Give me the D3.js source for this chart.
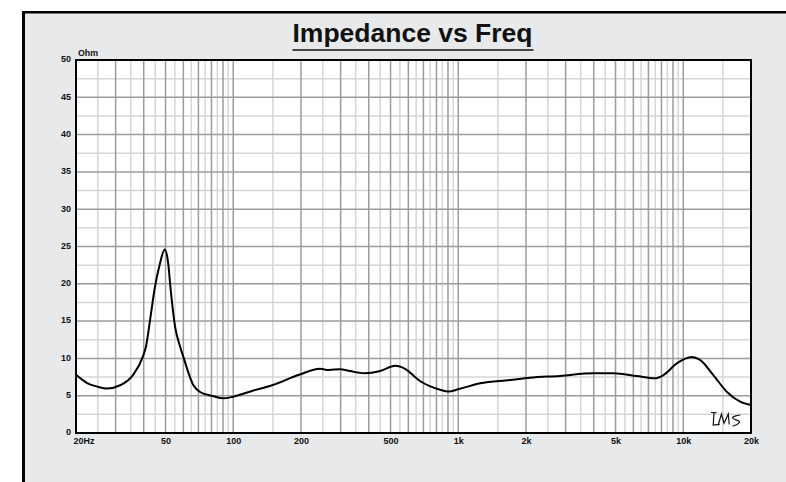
<!DOCTYPE html>
<html>
<head>
<meta charset="utf-8">
<script src="https://cdn.jsdelivr.net/npm/d3@7.9.0/dist/d3.min.js"></script>
<style>
  body { margin: 0; background: #fff; }
  svg { display: block; font-family: "Liberation Sans", Arial, sans-serif; }
</style>
</head>
<body>
<svg id="chart" width="786" height="482"></svg>
<script>
// impedance curve
const freqs = [20, 22.4, 25, 27.4, 31.4, 35.9, 39.6, 41, 42.8, 44.7, 47.2, 49.6, 51.4, 52.7, 55.1, 58, 60,
  66.5, 71.2, 81, 90.3, 100, 122, 150, 196, 243, 266, 298, 330, 384, 449, 525, 580, 673, 830, 903,
  1000, 1250, 1700, 2080, 2830, 3980, 4890, 6210, 7480, 8170, 9360, 10900, 11870, 13600, 15600, 17900, 20000];
const ohms = [7.8, 6.7, 6.2, 5.95, 6.4, 7.8, 10.2, 11.7, 15.4, 19.3, 22.7, 24.6, 22.7, 19.2, 14.3, 11.6, 10.2,
  6.4, 5.5, 4.96, 4.65, 4.87, 5.67, 6.43, 7.8, 8.6, 8.45, 8.55, 8.3, 8.0, 8.3, 9.0, 8.6, 7.0, 5.8, 5.55,
  5.86, 6.66, 7.1, 7.4, 7.65, 8.0, 8.0, 7.64, 7.33, 7.77, 9.34, 10.2, 9.8, 7.77, 5.54, 4.2, 3.75];

const yTicks = [0, 5, 10, 15, 20, 25, 30, 35, 40, 45, 50];
const xTickValues = [20, 50, 100, 200, 500, 1000, 2000, 5000, 10000, 20000];
const xTickLabels = ['20Hz', '50', '100', '200', '500', '1k', '2k', '5k', '10k', '20k'];

const svg = d3.select('#chart');
const pl = 76, pr = 751, pt = 60, pb = 433; // plot box

const x = d3.scaleLog().domain([20, 20000]).range([pl, pr]);
const y = d3.scaleLinear().domain([0, 50]).range([pb, pt]);

// frame
svg.append('rect').attr('x', 22).attr('y', 11).attr('width', 764).attr('height', 471).attr('fill', '#e8e9eb');
svg.append('line').attr('x1', 22).attr('x2', 786).attr('y1', 12.2).attr('y2', 12.2)
  .attr('stroke', '#000').attr('stroke-width', 2.5);
svg.append('line').attr('x1', 23.5).attr('x2', 23.5).attr('y1', 11).attr('y2', 482)
  .attr('stroke', '#000').attr('stroke-width', 3);

// plot area
svg.append('rect').attr('x', pl).attr('y', pt).attr('width', pr - pl).attr('height', pb - pt)
  .attr('fill', '#fff');

// grid lines: 1,1.5,2,...,9.5 per decade, darker on whole numbers
let vgrid = [];
[10, 100, 1000, 10000].forEach(d => {
  for (let m = 1; m < 10; m += 0.5) {
    const f = m * d;
    if (f > 20 && f < 20000) vgrid.push({ f, major: Number.isInteger(m) });
  }
});
let hgrid = d3.range(2.5, 50, 2.5).map(v => ({ v, major: v % 5 === 0 }));

const grid = svg.append('g');
// minor first so majors sit on top
grid.selectAll('.hmin').data(hgrid.filter(d => !d.major)).join('line')
  .attr('x1', pl).attr('x2', pr).attr('y1', d => y(d.v)).attr('y2', d => y(d.v))
  .attr('stroke', '#d6d6d6').attr('stroke-width', 1.5);
grid.selectAll('.vmin').data(vgrid.filter(d => !d.major)).join('line')
  .attr('x1', d => x(d.f)).attr('x2', d => x(d.f)).attr('y1', pt).attr('y2', pb)
  .attr('stroke', '#d6d6d6').attr('stroke-width', 1.5);
grid.selectAll('.hmaj').data(hgrid.filter(d => d.major)).join('line')
  .attr('x1', pl).attr('x2', pr).attr('y1', d => y(d.v)).attr('y2', d => y(d.v))
  .attr('stroke', '#9c9c9c').attr('stroke-width', 1.5);
grid.selectAll('.vmaj').data(vgrid.filter(d => d.major)).join('line')
  .attr('x1', d => x(d.f)).attr('x2', d => x(d.f)).attr('y1', pt).attr('y2', pb)
  .attr('stroke', '#9c9c9c').attr('stroke-width', 1.5);

// curve
const line = d3.line()
  .x((d, i) => x(freqs[i]))
  .y(d => y(d))
  .curve(d3.curveMonotoneX);
svg.append('path').datum(ohms).attr('d', line)
  .attr('fill', 'none').attr('stroke', '#000').attr('stroke-width', 2).attr('stroke-linejoin', 'round');

// plot border
svg.append('rect').attr('x', pl).attr('y', pt).attr('width', pr - pl).attr('height', pb - pt)
  .attr('fill', 'none').attr('stroke', '#000').attr('stroke-width', 2);

// axes
const yAxis = svg.append('g').attr('transform', `translate(${pl},0)`)
  .call(d3.axisLeft(y).tickValues(yTicks).tickSize(0).tickPadding(5));
yAxis.select('.domain').remove();
yAxis.selectAll('text').attr('font-size', 9).attr('font-weight', 'bold').attr('fill', '#111')
  .attr('font-family', '"Liberation Sans", Arial, sans-serif').attr('dy', '0.2em');

const xAxis = svg.append('g').attr('transform', `translate(0,${pb})`)
  .call(d3.axisBottom(x).tickValues(xTickValues).tickFormat((d, i) => xTickLabels[i]).tickSize(0).tickPadding(4.5));
xAxis.select('.domain').remove();
xAxis.selectAll('text').attr('font-size', 9).attr('font-weight', 'bold').attr('fill', '#111')
  .attr('font-family', '"Liberation Sans", Arial, sans-serif');
xAxis.selectAll('text').filter((d, i) => i === 0).attr('text-anchor', 'start').attr('dx', -3);

svg.append('text').attr('x', pl + 2).attr('y', pt - 4).text('Ohm')
  .attr('font-size', 8.8).attr('font-weight', 'bold').attr('fill', '#111');

// title
const title = svg.append('text').attr('x', (pl + pr) / 2 - 1).attr('y', 42)
  .attr('text-anchor', 'middle').attr('font-size', 26.5).attr('font-weight', 'bold').attr('fill', '#111')
  .text('Impedance vs Freq');
const tb = title.node().getBBox();
svg.append('line').attr('x1', tb.x).attr('x2', tb.x + tb.width + 1).attr('y1', 50).attr('y2', 50)
  .attr('stroke', '#111').attr('stroke-width', 1.5);

// LMS signature, drawn relative to bottom-right plot corner
const sig = svg.append('g').attr('transform', `translate(${pr},${pb})`)
  .attr('fill', 'none').attr('stroke', '#111').attr('stroke-width', 1.2).attr('stroke-linecap', 'round');
sig.append('path').attr('d', 'M-39.5,-20.5 L-35,-20.3 M-37,-20.5 L-37.8,-8 L-31.8,-8.7');
sig.append('path').attr('d', 'M-32.8,-8 L-29.5,-19 L-27,-9.8 L-22.7,-19 L-21.8,-9');
sig.append('path').attr('d', 'M-11,-18 C-14,-17.5 -19,-16.5 -18.5,-15 C-17.5,-13.5 -11,-12.5 -11.5,-11 C-12.5,-9 -16,-7.5 -18,-7');
</script>
</body>
</html>
